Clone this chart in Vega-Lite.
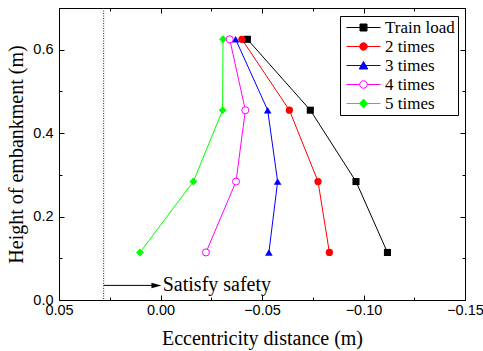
{
  "$schema": "https://vega.github.io/schema/vega-lite/v6.json",
  "width": 406,
  "height": 292,
  "autosize": "none",
  "padding": {"left": 59, "top": 8, "right": 18, "bottom": 51},
  "background": "white",
  "config": {
    "view": {"stroke": "black", "strokeWidth": 1},
    "axis": {
      "grid": false,
      "domainColor": "black",
      "tickColor": "black",
      "tickWidth": 1,
      "labelColor": "black",
      "titleColor": "black",
      "labelFont": "Liberation Sans",
      "labelFontSize": 14.5,
      "titleFont": "Liberation Serif",
      "titleFontSize": 20,
      "titleFontWeight": "normal"
    }
  },
  "datasets": {
    "series": [
      {"series": "Train load", "x": -0.0428, "y": 0.625},
      {"series": "Train load", "x": -0.0738, "y": 0.455},
      {"series": "Train load", "x": -0.0963, "y": 0.284},
      {"series": "Train load", "x": -0.1118, "y": 0.114},
      {"series": "2 times", "x": -0.0401, "y": 0.625},
      {"series": "2 times", "x": -0.0635, "y": 0.455},
      {"series": "2 times", "x": -0.0776, "y": 0.284},
      {"series": "2 times", "x": -0.0832, "y": 0.114},
      {"series": "3 times", "x": -0.0370, "y": 0.625},
      {"series": "3 times", "x": -0.0528, "y": 0.455},
      {"series": "3 times", "x": -0.0577, "y": 0.284},
      {"series": "3 times", "x": -0.0534, "y": 0.114},
      {"series": "4 times", "x": -0.0341, "y": 0.625},
      {"series": "4 times", "x": -0.0418, "y": 0.455},
      {"series": "4 times", "x": -0.0372, "y": 0.284},
      {"series": "4 times", "x": -0.0224, "y": 0.114},
      {"series": "5 times", "x": -0.0308, "y": 0.625},
      {"series": "5 times", "x": -0.0306, "y": 0.455},
      {"series": "5 times", "x": -0.0162, "y": 0.284},
      {"series": "5 times", "x": 0.0101, "y": 0.114}
    ],
    "safety": [{"x": 0.028}],
    "arrow": [{"x1": 0.028, "x2": 0.003, "xh": 0.002, "xt": -0.0011, "y": 0.035, "label": "Satisfy safety"}]
  },
  "layer": [
    {
      "data": {"name": "series"},
      "mark": {"type": "line", "strokeWidth": 1},
      "encoding": {
        "x": {
          "field": "x", "type": "quantitative",
          "scale": {"domain": [-0.15, 0.05], "reverse": true, "nice": false, "zero": false},
          "axis": {
            "orient": "bottom",
            "title": "Eccentricity distance (m)",
            "values": [0.05, 0.025, 0, -0.025, -0.05, -0.075, -0.1, -0.125, -0.15],
            "format": ".2f",
            "labelExpr": "abs(datum.value*20 - round(datum.value*20)) > 0.01 ? '' : datum.label",
            "tickSize": {"condition": {"test": "abs(datum.value*20 - round(datum.value*20)) > 0.01", "value": -3}, "value": -5},
            "labelPadding": 8,
            "labelFlush": false,
            "titlePadding": 12
          }
        },
        "y": {
          "field": "y", "type": "quantitative",
          "scale": {"domain": [0, 0.7], "nice": false},
          "axis": {
            "orient": "left",
            "title": "Height of embankment (m)",
            "values": [0, 0.1, 0.2, 0.3, 0.4, 0.5, 0.6],
            "format": ".1f",
            "labelExpr": "abs(datum.value*5 - round(datum.value*5)) > 0.01 ? '' : datum.label",
            "tickSize": {"condition": {"test": "abs(datum.value*5 - round(datum.value*5)) > 0.01", "value": -3}, "value": -5},
            "labelPadding": 11,
            "labelFlush": false,
            "titlePadding": 6
          }
        },
        "stroke": {
          "field": "series", "type": "nominal",
          "scale": {"domain": ["Train load", "2 times", "3 times", "4 times", "5 times"], "range": ["#000000", "#ff0000", "#0000ff", "#ff00ff", "#00ff00"]},
          "legend": null
        },
        "order": {"field": "y", "type": "quantitative"}
      }
    },
    {
      "data": {"name": "series"},
      "transform": [{"filter": "datum.series == 'Train load'"}],
      "mark": {"type": "point", "shape": "square", "size": 50, "filled": true, "color": "#000000", "opacity": 1},
      "encoding": {
        "x": {
          "field": "x", "type": "quantitative",
          "scale": {"domain": [-0.15, 0.05], "reverse": true, "nice": false, "zero": false},
          "axis": {
            "orient": "top", "title": null, "labels": false,
            "values": [0.05, 0.025, 0, -0.025, -0.05, -0.075, -0.1, -0.125, -0.15],
            "tickSize": {"condition": {"test": "abs(datum.value*20 - round(datum.value*20)) > 0.01", "value": -3}, "value": -5}
          }
        },
        "y": {
          "field": "y", "type": "quantitative",
          "scale": {"domain": [0, 0.7], "nice": false},
          "axis": {
            "orient": "right", "title": null, "labels": false,
            "values": [0, 0.1, 0.2, 0.3, 0.4, 0.5, 0.6],
            "tickSize": {"condition": {"test": "abs(datum.value*5 - round(datum.value*5)) > 0.01", "value": -3}, "value": -5}
          }
        }
      }
    },
    {
      "data": {"name": "series"},
      "transform": [{"filter": "datum.series == '2 times'"}],
      "mark": {"type": "point", "shape": "circle", "size": 52, "filled": true, "color": "#ff0000", "opacity": 1},
      "encoding": {
        "x": {"field": "x", "type": "quantitative", "scale": {"domain": [-0.15, 0.05], "reverse": true, "nice": false, "zero": false}, "axis": null},
        "y": {"field": "y", "type": "quantitative", "scale": {"domain": [0, 0.7], "nice": false}, "axis": null}
      }
    },
    {
      "data": {"name": "series"},
      "transform": [{"filter": "datum.series == '3 times'"}],
      "mark": {"type": "point", "shape": "triangle-up", "size": 58, "filled": true, "color": "#0000ff", "opacity": 1},
      "encoding": {
        "x": {"field": "x", "type": "quantitative", "scale": {"domain": [-0.15, 0.05], "reverse": true, "nice": false, "zero": false}, "axis": null},
        "y": {"field": "y", "type": "quantitative", "scale": {"domain": [0, 0.7], "nice": false}, "axis": null}
      }
    },
    {
      "data": {"name": "series"},
      "transform": [{"filter": "datum.series == '4 times'"}],
      "mark": {"type": "point", "shape": "circle", "size": 50, "filled": false, "fill": "#ffffff", "stroke": "#ff00ff", "strokeWidth": 1, "opacity": 1, "fillOpacity": 1},
      "encoding": {
        "x": {"field": "x", "type": "quantitative", "scale": {"domain": [-0.15, 0.05], "reverse": true, "nice": false, "zero": false}, "axis": null},
        "y": {"field": "y", "type": "quantitative", "scale": {"domain": [0, 0.7], "nice": false}, "axis": null}
      }
    },
    {
      "data": {"name": "series"},
      "transform": [{"filter": "datum.series == '5 times'"}],
      "mark": {"type": "point", "shape": "diamond", "size": 62, "filled": true, "color": "#00ff00", "opacity": 1},
      "encoding": {
        "x": {"field": "x", "type": "quantitative", "scale": {"domain": [-0.15, 0.05], "reverse": true, "nice": false, "zero": false}, "axis": null},
        "y": {"field": "y", "type": "quantitative", "scale": {"domain": [0, 0.7], "nice": false}, "axis": null}
      }
    },
    {
      "data": {"name": "series"},
      "transform": [{"filter": "false"}],
      "mark": {"type": "point", "filled": false, "size": 100, "strokeWidth": 1, "opacity": 1},
      "encoding": {
        "stroke": {
          "field": "series", "type": "nominal",
          "scale": {"domain": ["Train load", "2 times", "3 times", "4 times", "5 times"], "range": ["#000000", "#ff0000", "#0000ff", "#ff00ff", "#00ff00"]},
          "legend": {
            "title": null, "orient": "none", "legendX": 281, "legendY": 8,
            "strokeColor": "black", "fillColor": "white", "padding": 3,
            "symbolSize": 100, "symbolStrokeWidth": 1, "symbolOffset": 12, "labelOffset": 13,
            "labelFont": "Liberation Serif", "labelFontSize": 17, "labelColor": "black",
            "rowPadding": 1, "symbolOpacity": 1
          }
        },
        "fill": {
          "field": "series", "type": "nominal",
          "scale": {"domain": ["Train load", "2 times", "3 times", "4 times", "5 times"], "range": ["#000000", "#ff0000", "#0000ff", "#ffffff", "#00ff00"]},
          "legend": {
            "title": null, "orient": "none", "legendX": 281, "legendY": 8,
            "strokeColor": "black", "fillColor": "white", "padding": 3,
            "symbolSize": 100, "symbolStrokeWidth": 1, "symbolOffset": 12, "labelOffset": 13,
            "labelFont": "Liberation Serif", "labelFontSize": 17, "labelColor": "black",
            "rowPadding": 1, "symbolOpacity": 1
          }
        },
        "shape": {
          "field": "series", "type": "nominal",
          "scale": {
            "domain": ["Train load", "2 times", "3 times", "4 times", "5 times"],
            "range": [
              "M-3.4,0H3.4M-0.7,-0.7H0.7V0.7H-0.7Z",
              "M-3.4,0H3.4M0.75,0A0.75,0.75 0 1,1 -0.75,0A0.75,0.75 0 1,1 0.75,0Z",
              "M-3.4,0H3.4M0,-0.8L0.85,0.7H-0.85Z",
              "M-3.4,0H-0.75M0.75,0H3.4M0.75,0A0.75,0.75 0 1,1 -0.75,0A0.75,0.75 0 1,1 0.75,0Z",
              "M-3.4,0H3.4M0,-0.9L0.8,0L0,0.9L-0.8,0Z"
            ]
          },
          "legend": {
            "title": null, "orient": "none", "legendX": 281, "legendY": 8,
            "strokeColor": "black", "fillColor": "white", "padding": 3,
            "symbolSize": 100, "symbolStrokeWidth": 1, "symbolOffset": 12, "labelOffset": 13,
            "labelFont": "Liberation Serif", "labelFontSize": 17, "labelColor": "black",
            "rowPadding": 1, "symbolOpacity": 1
          }
        }
      }
    },
    {
      "data": {"name": "safety"},
      "mark": {"type": "rule", "strokeDash": [1, 1.5], "strokeWidth": 1, "color": "#222222"},
      "encoding": {
        "x": {"field": "x", "type": "quantitative", "scale": {"domain": [-0.15, 0.05], "reverse": true, "nice": false, "zero": false}, "axis": null}
      }
    },
    {
      "data": {"name": "arrow"},
      "mark": {"type": "rule", "strokeWidth": 1, "color": "black"},
      "encoding": {
        "x": {"field": "x1", "type": "quantitative", "scale": {"domain": [-0.15, 0.05], "reverse": true, "nice": false, "zero": false}, "axis": null},
        "x2": {"field": "x2"},
        "y": {"field": "y", "type": "quantitative", "scale": {"domain": [0, 0.7], "nice": false}, "axis": null}
      }
    },
    {
      "data": {"name": "arrow"},
      "mark": {"type": "point", "shape": "M1,0L-1,-0.55L-1,0.55Z", "size": 100, "filled": true, "color": "black", "opacity": 1},
      "encoding": {
        "x": {"field": "xh", "type": "quantitative", "scale": {"domain": [-0.15, 0.05], "reverse": true, "nice": false, "zero": false}, "axis": null},
        "y": {"field": "y", "type": "quantitative", "scale": {"domain": [0, 0.7], "nice": false}, "axis": null}
      }
    },
    {
      "data": {"name": "arrow"},
      "mark": {"type": "text", "align": "left", "baseline": "middle", "font": "Liberation Serif", "fontSize": 20, "color": "black"},
      "encoding": {
        "x": {"field": "xt", "type": "quantitative", "scale": {"domain": [-0.15, 0.05], "reverse": true, "nice": false, "zero": false}, "axis": null},
        "y": {"field": "y", "type": "quantitative", "scale": {"domain": [0, 0.7], "nice": false}, "axis": null},
        "text": {"field": "label"}
      }
    }
  ],
  "resolve": {
    "axis": {"x": "independent", "y": "independent"},
    "legend": {"stroke": "independent", "fill": "independent", "shape": "independent"}
  }
}
